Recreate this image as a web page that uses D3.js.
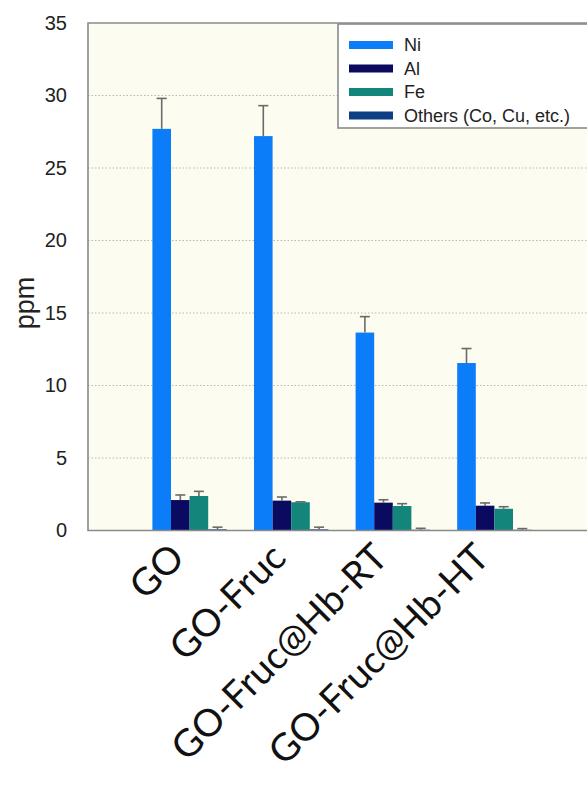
<!DOCTYPE html>
<html>
<head>
<meta charset="utf-8">
<script src="https://cdn.jsdelivr.net/npm/d3@7"></script>
<style>
  html, body { margin: 0; padding: 0; background: #ffffff; }
  svg { display: block; }
</style>
</head>
<body>
<svg id="chart" width="587" height="803"></svg>
<script>
// Samples on the category axis
const categories = ["GO", "GO-Fruc", "GO-Fruc@Hb-RT", "GO-Fruc@Hb-HT"];

// Element series (ppm) and their upper error bars
const seriesNames = ["Ni", "Al", "Fe", "Others (Co, Cu, etc.)"];
const niValues = [27.7, 27.2, 13.65, 11.55];
const niErrors = [2.1, 2.1, 1.1, 1.0];
const alValues = [2.1, 2.06, 1.92, 1.71];
const alErrors = [0.35, 0.25, 0.2, 0.19];
const feValues = [2.38, 1.95, 1.69, 1.5];
const feErrors = [0.32, 0.03, 0.16, 0.14];
const otherValues = [0.08, 0.08, 0.05, 0.05];
const otherErrors = [0.15, 0.15, 0.1, 0.08];

const yTicks = [0, 5, 10, 15, 20, 25, 30, 35];
const colors = ["#0c7df9", "#0a0a60", "#14857b", "#0e3f86"];

const series = [
  { name: seriesNames[0], values: niValues, errors: niErrors },
  { name: seriesNames[1], values: alValues, errors: alErrors },
  { name: seriesNames[2], values: feValues, errors: feErrors },
  { name: seriesNames[3], values: otherValues, errors: otherErrors }
];

const svg = d3.select("#chart");
const plot = { left: 88, top: 23, right: 596, bottom: 530.5 };

const x = d3.scalePoint().domain(categories).range([plot.left, plot.right]).padding(1);
const barW = 18.6;
const inner = d3.scaleBand().domain(seriesNames)
  .range([-barW * 2, barW * 2]).padding(0);
const y = d3.scaleLinear().domain([0, 35]).range([plot.bottom, plot.top]);

// plot background
svg.append("rect")
  .attr("x", plot.left).attr("y", plot.top)
  .attr("width", plot.right - plot.left).attr("height", plot.bottom - plot.top)
  .attr("fill", "#fdfcf1");

// dotted gridlines
svg.append("g").selectAll("line")
  .data(yTicks.filter(t => t > 0 && t < 35))
  .join("line")
  .attr("x1", plot.left).attr("x2", plot.right)
  .attr("y1", d => y(d)).attr("y2", d => y(d))
  .attr("stroke", "#b8b8b0").attr("stroke-width", 1.2)
  .attr("stroke-dasharray", "1.5,2");

// y axis tick labels
const yAxis = d3.axisLeft(y).tickValues(yTicks).tickSize(0).tickPadding(21);
const gy = svg.append("g").attr("transform", `translate(${plot.left},0)`).call(yAxis);
gy.select(".domain").remove();
gy.selectAll("text")
  .attr("font-family", "Liberation Sans, Arial, sans-serif")
  .attr("font-size", 20).attr("fill", "#222");

svg.append("text")
  .attr("transform", `translate(34,${303}) rotate(-90)`)
  .attr("text-anchor", "middle")
  .attr("font-family", "Liberation Sans, Arial, sans-serif")
  .attr("font-size", 27).attr("fill", "#222")
  .text("ppm");

// bars
const groups = svg.append("g").selectAll("g")
  .data(series).join("g")
  .attr("fill", (d, i) => colors[i]);

groups.selectAll("rect")
  .data(s => s.values.map((v, i) => ({ cat: categories[i], v, s: s.name })))
  .join("rect")
  .attr("x", d => x(d.cat) + inner(d.s))
  .attr("y", d => y(d.v))
  .attr("width", inner.bandwidth())
  .attr("height", d => y(0) - y(d.v));

// upper error bars
const errG = svg.append("g").attr("stroke", "#6a6a6a").attr("stroke-width", 1.6);
series.forEach(s => {
  s.values.forEach((v, i) => {
    const cx = x(categories[i]) + inner(s.name) + inner.bandwidth() / 2;
    const top = y(v + s.errors[i]);
    errG.append("line").attr("x1", cx).attr("x2", cx)
      .attr("y1", y(v)).attr("y2", top);
    errG.append("line").attr("x1", cx - 5).attr("x2", cx + 5)
      .attr("y1", top).attr("y2", top);
  });
});

// plot frame
svg.append("path")
  .attr("d", `M${plot.right},${plot.top}H${plot.left}V${plot.bottom}H${plot.right}`)
  .attr("fill", "none").attr("stroke", "#8a8a8a").attr("stroke-width", 1.6);

// category labels
svg.append("g").selectAll("text")
  .data(categories).join("text")
  .attr("transform", d => `translate(${x(d) - 3},${560}) rotate(-45)`)
  .attr("text-anchor", "end")
  .attr("font-family", "Lato, 'Open Sans', sans-serif")
  .attr("font-size", 38).attr("fill", "#111")
  .text(d => d);

// legend
const lg = svg.append("g").attr("transform", "translate(338,24)");
lg.append("rect").attr("x", 0).attr("y", 0).attr("width", 260).attr("height", 104)
  .attr("fill", "#ffffff").attr("stroke", "#8a8a8a").attr("stroke-width", 1.6);
const items = lg.selectAll("g.item").data(seriesNames).join("g")
  .attr("class", "item")
  .attr("transform", (d, i) => `translate(0,${21 + i * 23.5})`);
items.append("rect").attr("x", 11).attr("y", -4).attr("width", 44).attr("height", 8)
  .attr("fill", (d, i) => colors[i]);
items.append("text").attr("x", 66).attr("y", 0).attr("dy", "0.36em")
  .attr("font-family", "Liberation Sans, Arial, sans-serif")
  .attr("font-size", 18).attr("fill", "#222")
  .text(d => d);
</script>
</body>
</html>
